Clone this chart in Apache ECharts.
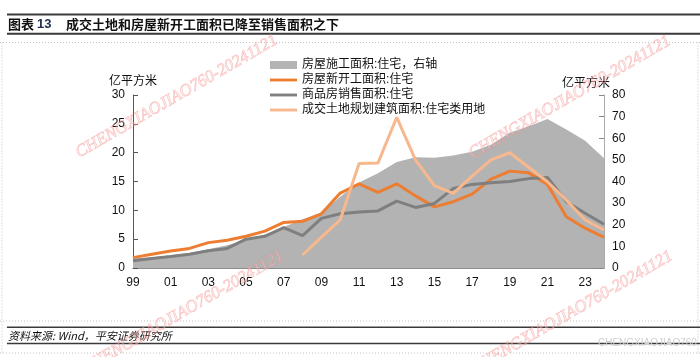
<!DOCTYPE html>
<html>
<head>
<meta charset="utf-8">
<script src="https://cdn.jsdelivr.net/npm/echarts@6/dist/echarts.min.js"></script>
<style>
html,body{margin:0;padding:0;background:#fff;}
#c{width:700px;height:357px;}
</style>
</head>
<body>
<div id="c"></div>
<script>
// ---- data (亿平方米) ----
const years = ['99','00','01','02','03','04','05','06','07','08','09','10','11','12','13','14','15','16','17','18','19','20','21','22','23','24'];
const underConstruction = [4.4, 5.0, 5.8, 6.9, 8.7, 10.5, 12.9, 15.5, 19.0, 22.5, 25.5, 33.0, 39.5, 43.8, 49.0, 51.2, 51.0, 52.0, 53.7, 57.0, 62.5, 65.5, 68.9, 64.0, 58.9, 50.8];
const newStarts = [1.8, 2.4, 2.95, 3.4, 4.4, 4.8, 5.5, 6.4, 7.9, 8.1, 9.4, 13.0, 14.6, 13.1, 14.6, 12.5, 10.6, 11.5, 12.8, 15.4, 16.8, 16.5, 14.5, 8.9, 6.9, 5.3];
const sales = [1.25, 1.65, 2.0, 2.4, 3.0, 3.4, 5.0, 5.5, 7.0, 5.6, 8.6, 9.4, 9.7, 9.9, 11.6, 10.5, 11.2, 13.8, 14.5, 14.8, 15.0, 15.5, 15.7, 11.5, 9.5, 7.6];
const landArea = [null, null, null, null, null, null, null, null, null, 6.0, 14.3, 22.3, 48.3, 48.5, 69.7, 49.9, 38.1, 34.5, 42.5, 50.0, 53.3, 46.6, 39.9, 31.4, 22.2, 17.6];
const seriesNames = ['房屋施工面积:住宅，右轴', '房屋新开工面积:住宅', '商品房销售面积:住宅', '成交土地规划建筑面积:住宅类用地'];
const leftTicks = {min: 0, max: 30, interval: 5};
const rightTicks = {min: 0, max: 80, interval: 10};
const titleText = '成交土地和房屋新开工面积已降至销售面积之下';
const unitText = '亿平方米';
const sourceText = '资料来源: Wind，平安证券研究所';
const watermark = 'CHENGXIAOJIAO760-20241121';

const FONT = '"Liberation Sans", Arial, "Noto Sans CJK SC", sans-serif';
const chart = echarts.init(document.getElementById('c'), null, {renderer: 'canvas'});

const lineIcon = 'path://M0,0 L30,0 L30,3.2 L0,3.2 Z';
const dotted = {stroke: '#c4c4c4', lineWidth: 1, lineDash: [1, 2]};
const solid = {stroke: '#3a3a3a', lineWidth: 2};

function wm(x, y) {
  return {type: 'text', x: x, y: y, rotation: Math.PI / 6, silent: true, z: 100,
    style: {text: watermark, fill: 'rgba(255,215,215,0.35)', stroke: 'rgba(240,120,120,0.45)', lineWidth: 0.7,
            font: 'italic 17px "Liberation Serif", serif', verticalAlign: 'middle'}};
}

chart.setOption({
  animation: false,
  backgroundColor: '#fff',
  grid: {left: 133, right: 96, top: 95, bottom: 89, containLabel: false},
  legend: {
    orient: 'vertical', left: 265, top: 54, itemWidth: 27, itemHeight: 8, itemGap: 3,
    textStyle: {fontSize: 12, color: '#111', fontFamily: FONT},
    itemStyle: {borderWidth: 0},
    data: [
      {name: seriesNames[0], icon: 'rect'},
      {name: seriesNames[1], icon: lineIcon},
      {name: seriesNames[2], icon: lineIcon},
      {name: seriesNames[3], icon: lineIcon}
    ]
  },
  xAxis: {
    type: 'category', data: years, boundaryGap: false,
    axisLine: {lineStyle: {color: '#8c8c8c', width: 1}},
    axisTick: {inside: true, interval: 1, length: 5, lineStyle: {color: '#555'}},
    axisLabel: {interval: 1, fontSize: 12, color: '#111', fontFamily: FONT, margin: 9},
    splitLine: {show: false}
  },
  yAxis: [
    {type: 'value', min: leftTicks.min, max: leftTicks.max, interval: leftTicks.interval,
     axisLine: {show: true, lineStyle: {color: '#555'}},
     axisTick: {show: true, inside: true, length: 5, lineStyle: {color: '#555'}},
     axisLabel: {fontSize: 12, color: '#111', fontFamily: FONT, margin: 8},
     splitLine: {show: false}},
    {type: 'value', min: rightTicks.min, max: rightTicks.max, interval: rightTicks.interval, position: 'right',
     axisLine: {show: true, lineStyle: {color: '#aaa'}},
     axisTick: {show: true, inside: true, length: 5, lineStyle: {color: '#888'}},
     axisLabel: {fontSize: 12, color: '#111', fontFamily: FONT, margin: 8},
     splitLine: {show: false}}
  ],
  series: [
    {name: seriesNames[0], type: 'line', yAxisIndex: 1, data: underConstruction, symbol: 'none',
     lineStyle: {width: 0, color: '#b3b3b3'}, itemStyle: {color: '#b3b3b3'},
     areaStyle: {color: '#b3b3b3', opacity: 1}, z: 1},
    {name: seriesNames[1], type: 'line', yAxisIndex: 0, data: newStarts, symbol: 'none',
     lineStyle: {width: 3, color: '#ed7d31'}, itemStyle: {color: '#ed7d31'}, z: 3},
    {name: seriesNames[2], type: 'line', yAxisIndex: 0, data: sales, symbol: 'none',
     lineStyle: {width: 3, color: '#7f7f7f'}, itemStyle: {color: '#7f7f7f'}, z: 3},
    {name: seriesNames[3], type: 'line', yAxisIndex: 1, data: landArea, symbol: 'none',
     lineStyle: {width: 3, color: '#f7b88e'}, itemStyle: {color: '#f7b88e'}, z: 3}
  ],
  graphic: [
    {type: 'line', shape: {x1: 7, y1: 14.5, x2: 700, y2: 14.5}, style: solid, silent: true},
    {type: 'text', x: 8, y: 24, style: {text: '图表', font: 'bold 13px "Noto Sans CJK SC", sans-serif', fill: '#111', verticalAlign: 'middle'}},
    {type: 'text', x: 37, y: 24, style: {text: '13', font: 'bold 13px "Liberation Sans", Arial, sans-serif', fill: '#1f2d4d', verticalAlign: 'middle'}},
    {type: 'text', x: 66, y: 24, style: {text: titleText, font: 'bold 13px "Noto Sans CJK SC", sans-serif', fill: '#111', verticalAlign: 'middle'}},
    {type: 'line', shape: {x1: 7, y1: 33.7, x2: 700, y2: 33.7}, style: solid, silent: true},
    {type: 'line', shape: {x1: 0, y1: 42.5, x2: 700, y2: 42.5}, style: dotted, silent: true},
    {type: 'line', shape: {x1: 2, y1: 42.5, x2: 2, y2: 353}, style: dotted, silent: true},
    {type: 'line', shape: {x1: 698, y1: 42.5, x2: 698, y2: 353}, style: dotted, silent: true},
    {type: 'line', shape: {x1: 0, y1: 321, x2: 700, y2: 321}, style: dotted, silent: true},
    {type: 'line', shape: {x1: 0, y1: 353, x2: 700, y2: 353}, style: dotted, silent: true},
    {type: 'line', shape: {x1: 7, y1: 327.3, x2: 700, y2: 327.3}, style: {stroke: '#3a3a3a', lineWidth: 1.5}, silent: true},
    {type: 'line', shape: {x1: 7, y1: 343.5, x2: 700, y2: 343.5}, style: {stroke: '#3a3a3a', lineWidth: 1.5}, silent: true},
    {type: 'text', x: 8, y: 335.5, style: {text: sourceText, font: 'italic 11px "Noto Sans CJK SC", sans-serif', fill: '#111', verticalAlign: 'middle'}},
    {type: 'text', x: 109, y: 80, style: {text: unitText, font: '12px "Noto Sans CJK SC", sans-serif', fill: '#111', verticalAlign: 'middle'}},
    {type: 'text', x: 562, y: 82, style: {text: unitText, font: '12px "Noto Sans CJK SC", sans-serif', fill: '#111', verticalAlign: 'middle'}},
    {type: 'text', x: 598, y: 343, style: {text: 'CHENGXIAOJIAO760', font: '10px "Liberation Sans", Arial, sans-serif', fill: '#cfcfcf', verticalAlign: 'middle'}},
    wm(77, 154), wm(470, 155), wm(83, 370), wm(472, 370)
  ]
});
</script>
</body>
</html>
